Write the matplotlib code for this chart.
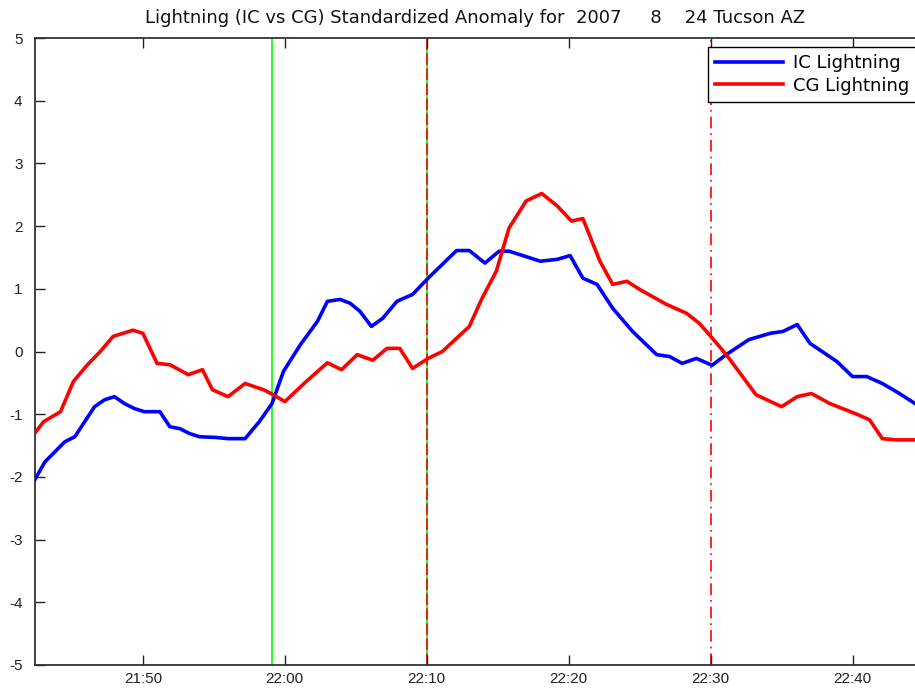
"""Lightning standardized anomaly (IC vs CG), Tucson AZ, 2007-08-24."""

import matplotlib

matplotlib.use("Agg")
import matplotlib.pyplot as plt

plt.rcParams["font.family"] = ["Liberation Sans", "DejaVu Sans"]
plt.rcParams["axes.unicode_minus"] = False

# time in minutes relative to 22:00
IC_TIME = [-17.6, -16.9, -16.2, -15.5, -14.8, -14.1, -13.4, -12.7, -12.0, -11.3,
           -10.6, -9.9, -8.8, -8.1, -7.4, -6.7, -6.0, -4.9, -4.0, -2.8,
           -1.8, -0.9, -0.1, 1.1, 2.3, 3.0, 3.9, 4.6, 5.3, 6.1,
           6.9, 7.9, 9.0, 10.1, 11.1, 12.1, 13.0, 14.1, 15.1, 15.8,
           18.0, 19.2, 20.1, 21.0, 22.0, 23.1, 24.5, 26.2, 27.1, 28.0,
           29.0, 30.1, 31.1, 32.7, 34.2, 35.1, 36.1, 37.0, 38.9, 40.0,
           41.0, 42.1, 43.3, 44.4]
IC_VALUES = [-2.04, -1.76, -1.6, -1.44, -1.36, -1.12, -0.88, -0.77, -0.72, -0.83,
             -0.91, -0.96, -0.96, -1.2, -1.23, -1.31, -1.36, -1.37, -1.39, -1.39,
             -1.12, -0.83, -0.32, 0.11, 0.48, 0.8, 0.83, 0.77, 0.64, 0.4,
             0.53, 0.8, 0.91, 1.17, 1.39, 1.61, 1.61, 1.41, 1.6, 1.6,
             1.44, 1.47, 1.53, 1.17, 1.07, 0.69, 0.32, -0.05, -0.08, -0.19,
             -0.11, -0.22, -0.05, 0.19, 0.29, 0.32, 0.43, 0.13, -0.16, -0.4,
             -0.4, -0.51, -0.67, -0.83]

CG_TIME = [-17.7, -17.0, -15.8, -14.9, -13.9, -13.0, -12.1, -10.7, -10.0, -9.0,
           -8.1, -6.8, -5.8, -5.1, -4.0, -2.8, -1.5, -0.8, 0.0, 1.5,
           3.0, 4.0, 5.1, 6.2, 7.2, 8.1, 9.0, 10.1, 11.1, 13.0,
           13.9, 14.9, 15.8, 17.0, 18.1, 19.2, 20.2, 21.0, 22.2, 23.1,
           24.1, 25.0, 26.9, 28.3, 29.2, 29.9, 31.1, 33.2, 35.0, 36.1,
           37.1, 38.4, 40.3, 41.2, 42.1, 43.1, 44.4]
CG_VALUES = [-1.33, -1.12, -0.96, -0.48, -0.21, 0.0, 0.24, 0.34, 0.29, -0.19,
             -0.21, -0.37, -0.29, -0.61, -0.72, -0.51, -0.61, -0.69, -0.8, -0.48,
             -0.18, -0.29, -0.05, -0.14, 0.05, 0.05, -0.27, -0.11, 0.0, 0.4,
             0.85, 1.28, 1.97, 2.4, 2.52, 2.32, 2.08, 2.12, 1.44, 1.07,
             1.12, 0.99, 0.75, 0.61, 0.45, 0.27, -0.05, -0.69, -0.88, -0.72,
             -0.67, -0.83, -1.0, -1.09, -1.39, -1.41, -1.41]

X_TICKS = [-10, 0, 10, 20, 30, 40]
X_TICK_LABELS = ["21:50", "22:00", "22:10", "22:20", "22:30", "22:40"]
Y_TICKS = [-5, -4, -3, -2, -1, 0, 1, 2, 3, 4, 5]

EVENT_GREEN = -0.9
EVENT_RED_DASH = 10.0
EVENT_RED_DASHDOT = 30.0

TITLE = "Lightning (IC vs CG) Standardized Anomaly for  2007     8    24 Tucson AZ"


def main() -> None:
    fig = plt.figure(figsize=(9.15, 6.9), dpi=100)
    ax = fig.add_axes([35 / 915, 25 / 690, 880 / 915, 627 / 690])

    ax.axvline(EVENT_GREEN, color="#00ff00", linewidth=1.2, zorder=1)
    ax.axvline(EVENT_RED_DASH, color="#00ff00", linewidth=1.2, zorder=1)
    ax.axvline(EVENT_RED_DASH, color="red", linewidth=1.2, linestyle=(0, (7, 2)), zorder=1.5)
    ax.axvline(EVENT_RED_DASHDOT, color="red", linewidth=1.2, linestyle=(0, (7, 3, 1, 3)), zorder=1)

    ax.plot(IC_TIME, IC_VALUES, color="#0000ff", linewidth=2.6, label="IC Lightning", zorder=3)
    ax.plot(CG_TIME, CG_VALUES, color="#ff0000", linewidth=2.6, label="CG Lightning", zorder=3)

    ax.set_xlim(-17.6, 44.4)
    ax.set_ylim(-5, 5)
    ax.set_xticks(X_TICKS)
    ax.set_xticklabels(X_TICK_LABELS)
    ax.set_yticks(Y_TICKS)
    ax.tick_params(direction="in", length=7, width=1, top=True, right=False,
                   labelsize=11, colors="#222222", pad=5)
    ax.tick_params(axis="y", pad=9)
    for side in ["left", "bottom", "top"]:
        ax.spines[side].set_linewidth(1.3)
        ax.spines[side].set_color("#333333")
    ax.spines["right"].set_visible(False)

    ax.set_title(TITLE, fontsize=13, family="DejaVu Sans", pad=11, color="#111111")

    leg = ax.legend(loc="upper left", bbox_to_anchor=((708 - 35) / 880, (665 - 47) / 627),
                    prop={"family": "DejaVu Sans", "size": 13},
                    fancybox=False, framealpha=1, edgecolor="black",
                    handlelength=3.75, handletextpad=0.55, borderaxespad=0,
                    borderpad=0.4, labelspacing=0.25)
    leg.get_frame().set_linewidth(1.0)
    leg.set_zorder(5)

    fig.savefig("out.png", dpi=100)
    plt.close(fig)


if __name__ == "__main__":
    main()
